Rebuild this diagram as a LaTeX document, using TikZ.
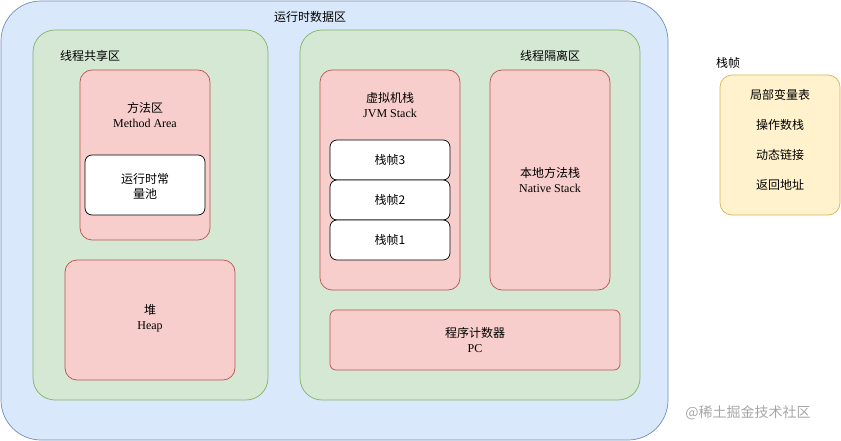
\documentclass[tikz,border=0pt]{standalone}
\usepackage{fontspec}
\setmainfont{Liberation Serif}
\newfontfamily\cjk{Noto Sans CJK SC}
\definecolor{bfill}{HTML}{DAE8FC}\definecolor{bline}{HTML}{6C8EBF}
\definecolor{gfill}{HTML}{D5E8D4}\definecolor{gline}{HTML}{82B366}
\definecolor{pfill}{HTML}{F8CECC}\definecolor{pline}{HTML}{B85450}
\definecolor{yfill}{HTML}{FFF2CC}\definecolor{yline}{HTML}{D6B656}
\begin{document}
\begin{tikzpicture}[x=1pt,y=-1pt,
  box/.style={draw,rounded corners=12pt,line width=0.7pt},
  blue/.style={box,fill=bfill,draw=bline,rounded corners=40pt},
  green/.style={box,fill=gfill,draw=gline,rounded corners=22pt},
  pink/.style={box,fill=pfill,draw=pline},
  white/.style={box,fill=white,draw=black,rounded corners=7pt},
  yel/.style={box,fill=yfill,draw=yline},
  txt/.style={align=center,font=\fontsize{12}{15}\selectfont,inner sep=0}]
\useasboundingbox (0,0) rectangle (841,441);
\draw[blue] (1,1) rectangle (668,440) coordinate (outer);
\node[txt] (t0) at (310,17) {\cjk 运行时数据区};
\draw[green] (33,30) rectangle (268,400);
\node[txt] (t1) at (90,56) {\cjk 线程共享区};
\draw[pink] (80,70) rectangle (210,240);
\node[txt] (ma) at (145,115) {{\cjk 方法区}\\Method Area};
\draw[white] (85,155) rectangle (205,215);
\node[txt] (cp) at (145,186) {\cjk 运行时常\\\cjk 量池};
\draw[pink] (65,260) rectangle (235,380);
\node[txt] (hp) at (150,318) {{\cjk 堆}\\Heap};
\draw[green] (300,30) rectangle (640,400);
\node[txt] (t2) at (550,56) {\cjk 线程隔离区};
\draw[pink] (320,70) rectangle (460,290);
\node[txt] (jv) at (390,105) {{\cjk 虚拟机栈}\\JVM Stack};
\draw[white] (330,140) rectangle (450,180);
\node[txt] (f3) at (390,160) {\cjk 栈帧3};
\draw[white] (330,180) rectangle (450,220);
\node[txt] (f2) at (390,200) {\cjk 栈帧2};
\draw[white] (330,220) rectangle (450,260);
\node[txt] (f1) at (390,240) {\cjk 栈帧1};
\draw[pink] (490,70) rectangle (610,290);
\node[txt] (ns) at (550,180) {{\cjk 本地方法栈}\\Native Stack};
\draw[pink,rounded corners=6pt] (330,310) rectangle (620,370);
\node[txt] (pc) at (475,340) {{\cjk 程序计数器}\\PC};
\node[txt,anchor=west] (sf) at (716,63) {\cjk 栈帧};
\draw[yel] (720,75) rectangle (840,215);
\node[txt] (y1) at (780,95) {\cjk 局部变量表};
\node[txt] (y2) at (780,125) {\cjk 操作数栈};
\node[txt] (y3) at (780,155) {\cjk 动态链接};
\node[txt] (y4) at (780,185) {\cjk 返回地址};
\node[txt,text=gray!70,font=\fontsize{14}{16}\selectfont] (wm) at (748,413) {\cjk @稀土掘金技术社区};
\end{tikzpicture}
\end{document}
